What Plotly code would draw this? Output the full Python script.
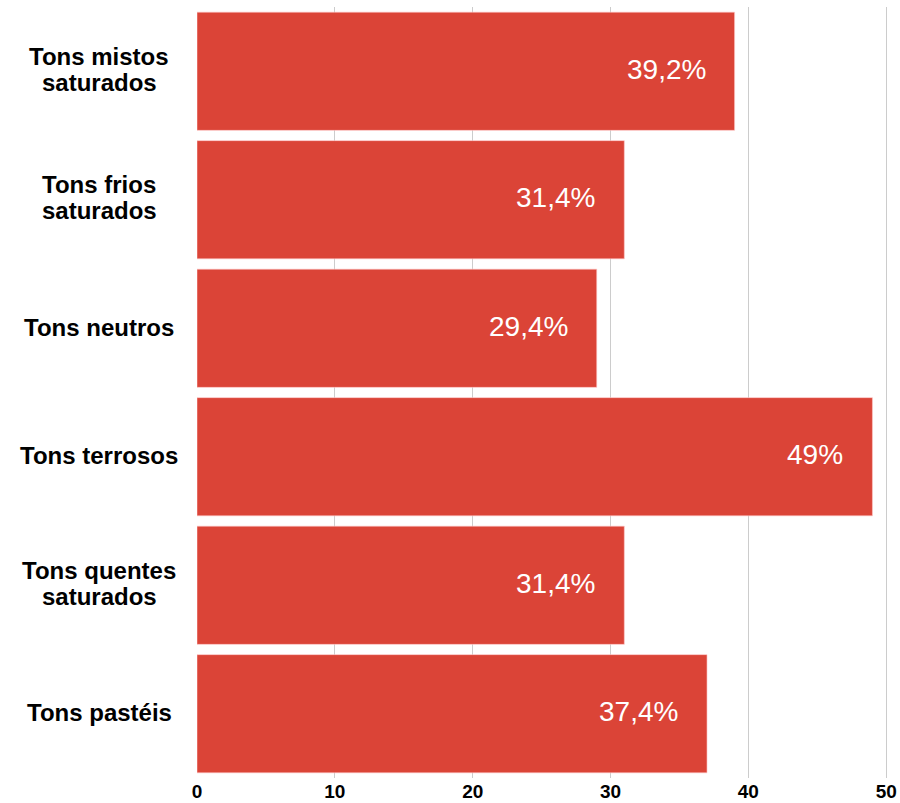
import plotly.graph_objects as go

categories = ["Tons mistos<br>saturados", "Tons frios<br>saturados", "Tons neutros",
              "Tons terrosos", "Tons quentes<br>saturados", "Tons pastéis"]
values = [39, 31, 29, 49, 31, 37]
labels = ["39,2%", "31,4%", "29,4%", "49%", "31,4%", "37,4%"]
x_ticks = [0, 10, 20, 30, 40, 50]

W, H = 900, 803
ML, MR, MT, MB = 197, 0, 7, 25
plot_w = W - ML - MR
LINE_H = 26

fig = go.Figure()
fig.add_trace(go.Bar(
    x=values, y=categories, orientation="h",
    marker=dict(color="#DB4437", line=dict(color="rgba(255,200,200,0.6)", width=1)),
    hoverinfo="skip",
))

for c, v, t in zip(categories, values, labels):
    fig.add_annotation(x=v, y=c, xref="x", yref="y", text=t, showarrow=False,
                       xanchor="right", yanchor="middle", xshift=-27, yshift=2,
                       font=dict(family="Liberation Sans, Arial", size=28, color="white"))
    lines = c.split("<br>")
    n = len(lines)
    for i, ln in enumerate(lines):
        ys = -(i - (n - 1) / 2) * LINE_H + (2 if n > 1 else 1)
        fig.add_annotation(x=(99 - ML) / plot_w, y=c, xref="paper", yref="y", text=ln,
                           showarrow=False, xanchor="center", yanchor="middle",
                           yshift=ys,
                           font=dict(family="Liberation Sans, Arial", size=24, color="black",
                                     weight="bold"))

fig.update_layout(
    width=W, height=H,
    margin=dict(l=ML, r=MR, t=MT, b=MB),
    plot_bgcolor="white", paper_bgcolor="white",
    bargap=0.08,
    showlegend=False,
    xaxis=dict(range=[0, 51], tickvals=x_ticks, ticktext=[str(v) for v in x_ticks],
               showgrid=True, gridcolor="#cccccc", gridwidth=1, zeroline=False,
               showline=False, ticks="",
               tickfont=dict(family="Liberation Sans Narrow, Arial Narrow, Liberation Sans",
                             size=19, color="black", weight="bold")),
    yaxis=dict(categoryorder="array", categoryarray=categories, autorange="reversed",
               showticklabels=False, showgrid=False, zeroline=False, showline=False,
               ticks=""),
)

fig.write_html("out.html")
